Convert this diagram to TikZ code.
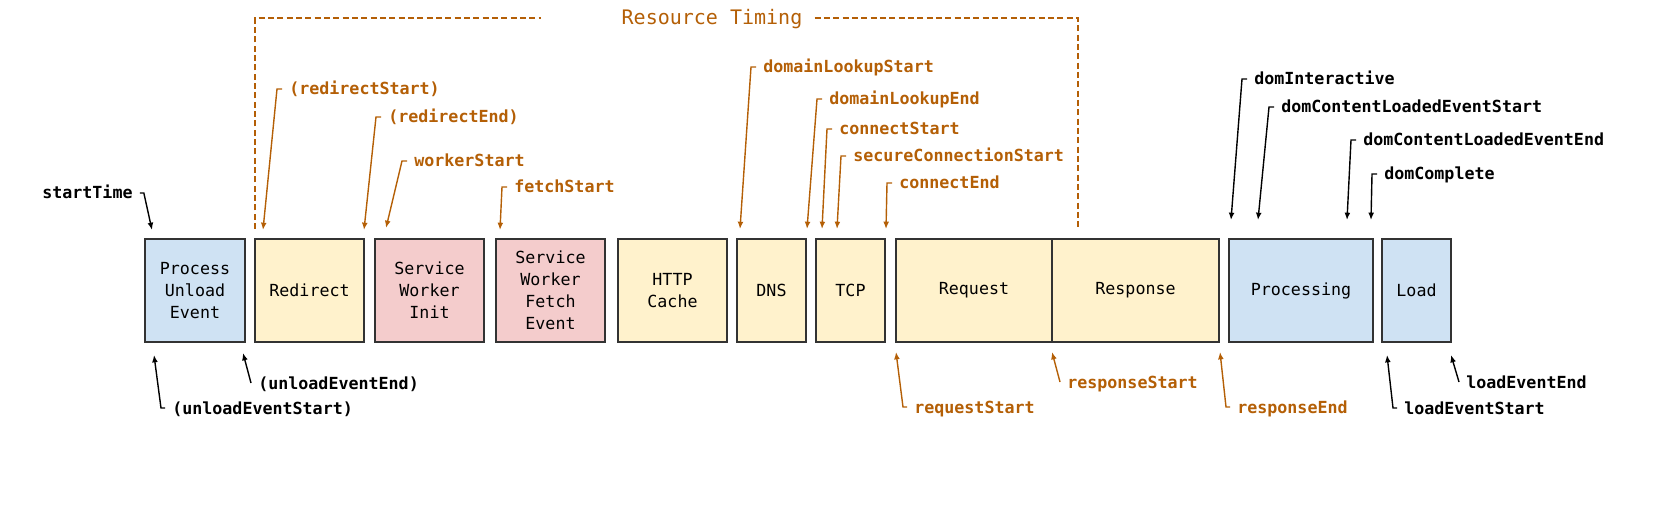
\documentclass[tikz,border=0pt]{standalone}
\usepackage{fontspec}
\setmonofont{DejaVu Sans Mono}
\usepackage{tikz}
\usetikzlibrary{arrows.meta,positioning}
\definecolor{cblue}{HTML}{CFE2F3}
\definecolor{cyellow}{HTML}{FFF2CC}
\definecolor{cpink}{HTML}{F4CCCC}
\definecolor{corange}{HTML}{B45F06}
\definecolor{cborder}{HTML}{333333}

\begin{document}
\begin{tikzpicture}[x=0.75pt,y=-0.75pt,>={Latex[length=5.5pt,width=4.4pt]},
  phase/.style={draw=cborder,line width=1.3pt,outer sep=0pt,inner sep=0pt,anchor=north west,
    minimum height=77.25pt,align=center,font=\ttfamily\fontsize{12.5pt}{16.5pt}\selectfont},
  evt/.style={inner xsep=5.25pt,inner ysep=0pt,text height=9pt,text depth=0pt,anchor=west,
    font=\ttfamily\bfseries\fontsize{12.5pt}{15pt}\selectfont},
  res arrow/.style={->,draw=corange,line width=1.05pt},
  nav arrow/.style={->,draw=black,line width=1.05pt},
  bracket/.style={draw=corange,line width=0.8pt,dash pattern=on 4.5pt off 2.5pt}]
  \useasboundingbox (0,0) rectangle (1669,513);

  % phases
  \foreach \nm/\xa/\xb/\fc/\txt in {
      unload/145/245/cblue/{Process\\Unload\\Event},
      redirect/255/364/cyellow/Redirect,
      swinit/375/484/cpink/{Service\\Worker\\Init},
      swfetch/496/605/cpink/{Service\\Worker\\Fetch\\Event},
      cache/618/727/cyellow/{HTTP\\Cache},
      dns/737/806/cyellow/DNS,
      tcp/816/885/cyellow/TCP,
      request/896/1052/cyellow/Request,
      response/1052/1219/cyellow/Response,
      processing/1229/1373/cblue/Processing,
      load/1382/1451/cblue/Load}
    \node[phase,fill=\fc,minimum width={(\xb-\xa)*0.75pt}] (\nm) at (\xa,239) {\txt};

  % resource timing bracket
  \node[inner sep=0pt,text height=10pt,text depth=0pt,text=corange,
    font=\ttfamily\fontsize{15pt}{18pt}\selectfont] (rtitle) at (712,18) {Resource Timing};
  \coordinate (rtl) at (255,229);
  \coordinate (rtr) at (1078,229);
  \draw[bracket] (rtl) |- ([xshift=-60pt]rtitle.west);
  \draw[bracket] ([xshift=9pt]rtitle.east) -| (rtr);

  % resource timing marks (above)
  \foreach \nm/\xt/\yt/\xp/\yp/\txt in {
      rs/289/89/263/230/(redirectStart),
      re/388/117/364/230/(redirectEnd),
      ws/414/161/386/228/workerStart,
      fs/514/187/500/230/fetchStart,
      dls/763/67/740/229/domainLookupStart,
      dle/829/99/807/229/domainLookupEnd,
      cs/839/129/822/229/connectStart,
      scs/853/156/837/229/secureConnectionStart,
      ce/899/183/886/229/connectEnd}{
    \node[evt,text=corange] (\nm) at (\xt-7,\yt) {\txt};
    \coordinate (\nm-tip) at (\xp,\yp);
    \draw[res arrow] (\nm.west) -- ++(-5,0) -- (\nm-tip);
  }

  % resource timing marks (below)
  \foreach \nm/\xt/\yt/\xp/\yp/\hk/\txt in {
      rqs/914/407/896/352/4/requestStart,
      rps/1067/382/1052/352/0/responseStart,
      rpe/1237/407/1220/352/4/responseEnd}{
    \node[evt,text=corange] (\nm) at (\xt-7,\yt) {\txt};
    \coordinate (\nm-tip) at (\xp,\yp);
    \draw[res arrow] (\nm.west) -- ++(-\hk,0) -- (\nm-tip);
  }

  % navigation marks (above)
  \node[evt] (st) at (35,193) {startTime};
  \coordinate (st-tip) at (152,230);
  \draw[nav arrow] (st.east) -- ++(4,0) -- (st-tip);
  \foreach \nm/\xt/\yt/\xp/\yp/\txt in {
      di/1254/79/1231/220/domInteractive,
      dcls/1281/107/1258/220/domContentLoadedEventStart,
      dcle/1363/140/1347/220/domContentLoadedEventEnd,
      dc/1384/174/1371/220/domComplete}{
    \node[evt] (\nm) at (\xt-7,\yt) {\txt};
    \coordinate (\nm-tip) at (\xp,\yp);
    \draw[nav arrow] (\nm.west) -- ++(-5,0) -- (\nm-tip);
  }

  % navigation marks (below)
  \foreach \nm/\xt/\yt/\xp/\yp/\hk/\txt in {
      ues/172/408/154/355/4/(unloadEventStart),
      uee/258/383/243/353/0/(unloadEventEnd),
      les/1404/408/1387/355/4/loadEventStart,
      lee/1466/382/1451/355/0/loadEventEnd}{
    \node[evt] (\nm) at (\xt-7,\yt) {\txt};
    \coordinate (\nm-tip) at (\xp,\yp);
    \draw[nav arrow] (\nm.west) -- ++(-\hk,0) -- (\nm-tip);
  }
\end{tikzpicture}
\end{document}
